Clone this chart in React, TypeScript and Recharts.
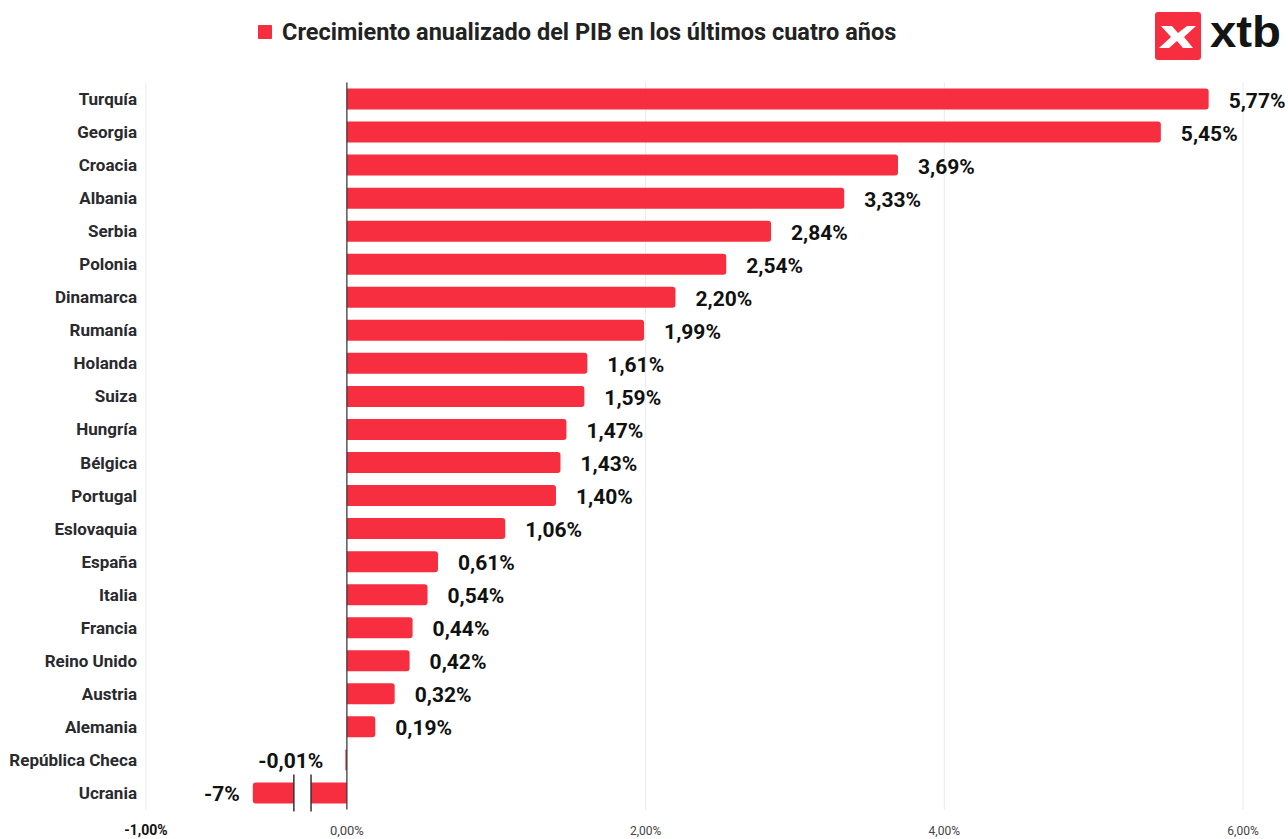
import React from "react";
import { BarChart, Bar, XAxis, YAxis, CartesianGrid, ReferenceLine, LabelList } from "recharts";

const countries = [
  "Turquía", "Georgia", "Croacia", "Albania", "Serbia", "Polonia", "Dinamarca", "Rumanía",
  "Holanda", "Suiza", "Hungría", "Bélgica", "Portugal", "Eslovaquia", "España", "Italia",
  "Francia", "Reino Unido", "Austria", "Alemania", "República Checa", "Ucrania",
];
const growth = [
  5.77, 5.45, 3.69, 3.33, 2.84, 2.54, 2.2, 1.99, 1.61, 1.59, 1.47, 1.43, 1.4, 1.06, 0.61, 0.54,
  0.44, 0.42, 0.32, 0.19, -0.01, -7,
];
const tickValues = [-1.345, 0, 2, 4, 6];
const tickLabels = ["-1,00%", "0,00%", "2,00%", "4,00%", "6,00%"];
const xDomain = [-1.345, 6];
const clipAt = -0.63; // bars below this are drawn broken
const breakAt = [-0.355, -0.24];

const TITLE = "Crecimiento anualizado del PIB en los últimos cuatro años";
const RED = "#f72e3f";

const data = countries.map((c, i) => ({
  name: c,
  value: growth[i],
  display: Math.max(growth[i], clipAt),
}));

const fmt = (v: number) =>
  Number.isInteger(v) ? `${v}%` : `${v.toFixed(2).replace(".", ",")}%`;

const BarShape = (props: any) => {
  const { x, y, width, height, payload } = props;
  const left = Math.min(x, x + width);
  const w = Math.abs(width);
  const right = left + w;
  const neg = payload.value < 0;
  const r = Math.min(3, w / 2, height / 2);
  let d: string;
  if (neg) {
    d = `M${right},${y} L${left + r},${y} Q${left},${y} ${left},${y + r} L${left},${y + height - r} Q${left},${y + height} ${left + r},${y + height} L${right},${y + height} Z`;
  } else {
    d = `M${left},${y} L${right - r},${y} Q${right},${y} ${right},${y + r} L${right},${y + height - r} Q${right},${y + height} ${right - r},${y + height} L${left},${y + height} Z`;
  }
  const clipped = payload.value < clipAt;
  let marks = null;
  if (clipped) {
    const ppu = w / Math.abs(payload.display);
    const zeroX = right;
    const b1 = zeroX + breakAt[0] * ppu;
    const b2 = zeroX + breakAt[1] * ppu;
    marks = (
      <g>
        <rect x={b1} y={y - 1} width={b2 - b1} height={height + 2} fill="#fff" />
        <line x1={b1} x2={b1} y1={y - 8} y2={y + height + 8} stroke="#333" strokeWidth={1.5} />
        <line x1={b2} x2={b2} y1={y - 8} y2={y + height + 8} stroke="#333" strokeWidth={1.5} />
      </g>
    );
  }
  return (
    <g>
      <path d={d} fill={RED} />
      {marks}
    </g>
  );
};

const ValueLabel = (props: any) => {
  const { x, y, width, height, index } = props;
  const v = growth[index];
  const left = Math.min(x, x + width);
  const right = left + Math.abs(width);
  const cy = y + height / 2 + 1.5;
  if (v >= 0) {
    return (
      <text x={right + 20} y={cy} dominantBaseline="central" textAnchor="start"
        fontFamily="Roboto" fontWeight={700} fontSize={21} fill="#111">
        {fmt(v)}
      </text>
    );
  }
  const off = v < clipAt ? 13 : 22;
  return (
    <text x={left - off} y={cy} dominantBaseline="central" textAnchor="end"
      fontFamily="Roboto" fontWeight={700} fontSize={21} fill="#111">
      {fmt(v)}
    </text>
  );
};

const YTick = (props: any) => {
  const { x, y, payload } = props;
  return (
    <text x={x} y={y} dominantBaseline="central" textAnchor="end"
      fontFamily="Roboto" fontWeight={700} fontSize={17} fill="#2a2a2e">
      {payload.value}
    </text>
  );
};

const XTick = (props: any) => {
  const { x, y, index } = props;
  const first = index === 0;
  const size = first ? 14 : index === 1 ? 13 : 12;
  return (
    <text x={x} y={y + 25} textAnchor="middle" fontFamily="Roboto"
      fontWeight={first ? 700 : 400} fontSize={size} fill={first ? "#111" : "#444"}>
      {tickLabels[index]}
    </text>
  );
};

export default function App() {
  return (
    <div style={{ position: "absolute", left: 0, top: 0, width: 1288, height: 839, background: "#fff" }}>
      <BarChart
        width={1288}
        height={839}
        data={data}
        layout="vertical"
        margin={{ top: 82.5, right: 45, bottom: 0, left: 0 }}
        barSize={21}
      >
        <CartesianGrid horizontal={false} stroke="#ebebeb" strokeWidth={1} />
        <XAxis
          type="number"
          domain={xDomain}
          ticks={tickValues}
          allowDataOverflow
          axisLine={false}
          tickLine={false}
          tickSize={0}
          tickMargin={0}
          height={29.5}
          interval={0}
          tick={<XTick />}
        />
        <YAxis
          type="category"
          dataKey="name"
          width={146}
          axisLine={false}
          tickLine={false}
          tickSize={0}
          tickMargin={9}
          interval={0}
          tick={<YTick />}
        />
        <Bar dataKey="display" fill={RED} shape={<BarShape />} isAnimationActive={false}>
          <LabelList dataKey="display" content={<ValueLabel />} />
        </Bar>
        <ReferenceLine x={0} stroke="#333" strokeWidth={1.2} />
      </BarChart>

      <div style={{ position: "absolute", left: 258, top: 17, display: "flex", alignItems: "center" }}>
        <div style={{ width: 14, height: 14, background: RED, marginRight: 10, borderRadius: 1 }} />
        <span style={{ fontFamily: "Roboto", fontWeight: 700, fontSize: 23.5, color: "#222", lineHeight: "30px" }}>
          {TITLE}
        </span>
      </div>

      <svg style={{ position: "absolute", left: 0, top: 0 }} width={1288} height={70}>
        <rect x={1155} y={12} width={46} height={48} rx={3} fill={RED} />
        <path
          d="M1161,26 L1172,26 L1178,33 L1187,26 L1196,26 L1184,37 L1193,48 L1183,48 L1177,41 L1169,48 L1159,48 L1171,37 Z"
          fill="#fff"
        />
        <text x={1210} y={47} fontFamily="Liberation Sans, Arial" fontWeight={700} fontSize={44}
          fill="#141414" textLength={71} lengthAdjust="spacingAndGlyphs">
          xtb
        </text>
      </svg>
    </div>
  );
}
